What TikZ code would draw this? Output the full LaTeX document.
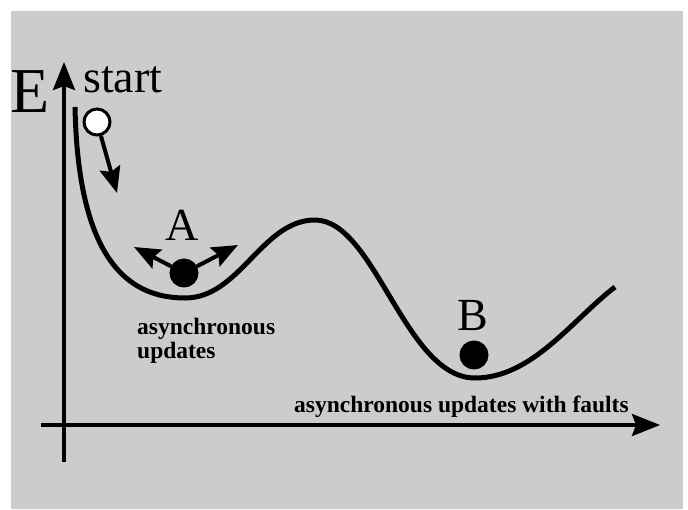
\documentclass[tikz,border=0pt]{standalone}
\usepackage{fontspec}
\setmainfont{Liberation Serif}
\usepackage{tikz}
\usetikzlibrary{arrows.meta,positioning}
\definecolor{bggray}{RGB}{204,204,204}

\begin{document}
\begin{tikzpicture}[
    x=1pt, y=-1pt,
    axis/.style={line width=4pt, -{Stealth[length=28pt, width=22pt, inset=4pt]}},
    push/.style={line width=4pt, -{Stealth[length=26pt, width=21pt, inset=4pt]}},
    ball/.style={circle, draw, line width=3pt, fill=#1, minimum size=26pt, inner sep=0pt},
    lbl/.style={font=\fontsize{#1}{#1}\selectfont, inner sep=0pt},
    note/.style={font=\fontsize{23.5}{24}\selectfont\bfseries, inner sep=0pt, align=left}
]
\useasboundingbox (0,0) rectangle (688,509);
\fill[bggray] (11,11) rectangle (683,509);

% Axes
\coordinate (ybot) at (64,462);
\coordinate (ytop) at (64,62);
\coordinate (xleft) at (41,425);
\coordinate (xright) at (660,425);
\draw[axis] (ybot) -- (ytop);
\draw[axis] (xleft) -- (xright);
\node[lbl=64, anchor=base west] (e) at (10,112) {E};

% Energy landscape
\draw[line width=5pt] (75,107)
    .. controls (78,255) and (125,298) .. (185,298)
    .. controls (240,298) and (262,220) .. (315,220)
    .. controls (375,220) and (405,378) .. (475,378)
    .. controls (532,378) and (572,320) .. (615,287);

% Start
\node[ball=white] (s) at (97,122) {};
\coordinate (sdir) at (117,193);
\draw[push] (s) -- (sdir);
\node[lbl=46, anchor=base west] (startlbl) at (83,92) {start};

% Minimum A
\node[ball=black] (a) at (184,273) {};
\coordinate (aleft) at (134,247);
\coordinate (aright) at (238,245);
\draw[push] (a) -- (aleft);
\draw[push] (a) -- (aright);
\node[lbl=46, anchor=base] (albl) at (182,240) {A};
\node[note, anchor=north west] (anote) at (137,318) {asynchronous\\updates};

% Minimum B
\node[ball=black] (b) at (474,355) {};
\node[lbl=46, anchor=base] (blbl) at (473,330) {B};
\node[note, anchor=base west] (bnote) at (294,412) {asynchronous updates with faults};
\end{tikzpicture}
\end{document}
